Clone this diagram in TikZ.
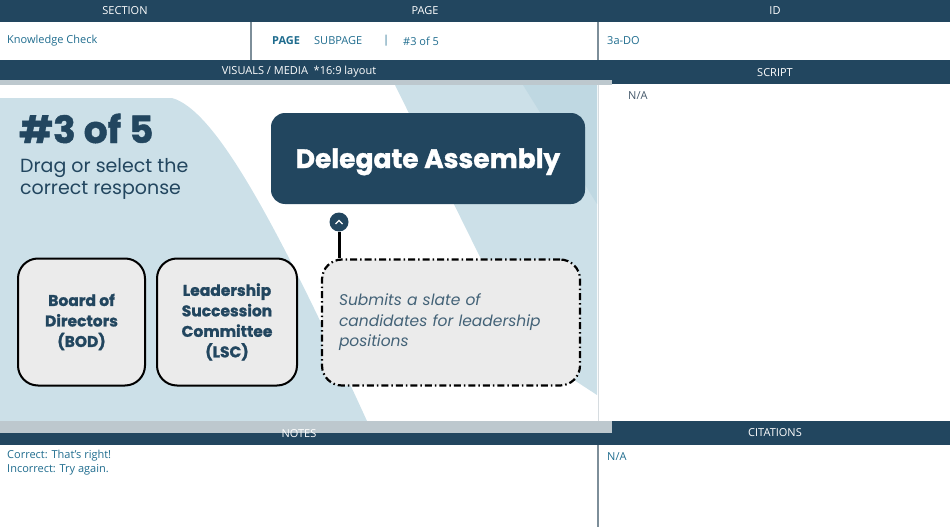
\documentclass[tikz,border=0pt]{standalone}
\usepackage{fontspec}
\setmainfont{Open Sans}
\newfontfamily\popfont{Poppins}
\newfontfamily\popheavy{Poppins}[BoldFeatures={FakeBold=1.2}]
\usepackage{tikz}
\usetikzlibrary{positioning}
\usetikzlibrary{calc}
\definecolor{navy}{HTML}{22465F}
\definecolor{paleblue}{HTML}{CCE0E8}
\definecolor{deepblue}{HTML}{BFD8E2}
\definecolor{stripgrey}{HTML}{BDC8CE}
\definecolor{cardgrey}{HTML}{EBEBEB}
\definecolor{celltext}{HTML}{1F6C8E}
\definecolor{rulegrey}{HTML}{7D8E99}
\definecolor{edgegrey}{HTML}{D6DCE0}
\definecolor{scripttext}{HTML}{44586A}
\tikzset{
    headlabel/.style={text=white, inner sep=0pt, font=\fontsize{11}{13}\selectfont},
    cell/.style={text=celltext, inner sep=0pt, anchor=west, font=\fontsize{11}{13}\selectfont},
    divider/.style={draw=rulegrey, line width=1.3pt},
    topic/.style={fill=navy, rounded corners=14pt, minimum width=314pt, minimum height=91pt,
        text height=19pt, text depth=0pt,
        text=white, font={\popheavy\bfseries\fontsize{26.5}{30}\selectfont}},
    toggle/.style={circle, fill=navy, minimum size=19pt, inner sep=0pt},
    card/.style={draw=black, line width=2pt, fill=cardgrey, rounded corners=20pt,
        minimum height=127pt, inner sep=0pt, align=center, text=navy,
        font={\popheavy\bfseries\fontsize{15.5}{20.5}\selectfont}},
    answer/.style={draw=black, line width=2.2pt, fill=cardgrey, rounded corners=20pt,
        dash pattern=on 7pt off 3pt on 1.5pt off 3pt,
        minimum height=126pt, text width=224pt, inner xsep=17pt, align=left, text=navy!85!white,
        font={\popfont\itshape\fontsize{15.5}{20.5}\selectfont}},
    stem/.style={draw=black, line width=3pt},
}
\begin{document}
\begin{tikzpicture}[x=1pt,y=-1pt]
\useasboundingbox (0,0) rectangle (950,527);
% slide backdrop
\fill[paleblue] (0,98) -- (172,98) .. controls (215,110) and (275,220) .. (367,421) -- (0,421) -- cycle;
\fill[paleblue] (395,85) -- (597,85) -- (597,395) -- (525,348) -- cycle;
\fill[deepblue] (523,85) -- (597,85) -- (597,204) -- cycle;
\draw[edgegrey, line width=1pt] (598,84) -- (598,421);
% bars
\fill[navy] (0,0) rectangle (950,22);
\fill[navy] (0,60) rectangle (950,84);
\fill[stripgrey] (0,80) rectangle (612,85);
\fill[navy] (0,421) rectangle (950,445);
\fill[stripgrey] (0,421) rectangle (612,433);
\node[headlabel] (secHead) at (125,11) {SECTION};
\node[headlabel] (pageHead) at (425,11) {PAGE};
\node[headlabel] (idHead) at (775,11) {ID};
\node[headlabel] (mediaHead) at (299,72) {VISUALS / MEDIA\ \ *16:9 layout};
\node[headlabel] (scriptHead) at (775,73) {SCRIPT};
\node[headlabel] (notesHead) at (299,434) {NOTES};
\node[headlabel] (citeHead) at (775,433) {CITATIONS};
\draw[divider] (251,22) -- (251,60);
\draw[divider] (598,22) -- (598,60);
\draw[divider] (598,445) -- (598,527);
% cells
\node[cell] (secCell) at (7,41) {Knowledge Check};
\node[cell, font=\fontsize{11}{13}\selectfont\bfseries] (pageCell) at (272,41) {PAGE};
\node[cell] (subCell) at (314,41) {SUBPAGE};
\node[cell] (barCell) at (383,41) {|};
\node[cell] (numCell) at (403,41) {\#3 of 5};
\node[cell] (idCell) at (607,41) {3a-DO};
\node[cell, text=scripttext] (scriptCell) at (628,96) {N/A};
\node[cell, anchor=north west, align=left, font=\fontsize{11}{14}\selectfont] (notesCell) at (7,450) {Correct: That’s right!\\Incorrect: Try again.};
\node[cell] (citeCell) at (607,457) {N/A};
% slide content
\node[anchor=base west, inner sep=0pt, text=navy, font={\popheavy\bfseries\fontsize{37.5}{40}\selectfont}] (qNum) at (19,143) {\#3 of 5};
\node[anchor=north west, inner sep=0pt, align=left, text=navy, font={\popfont\fontsize{19}{22}\selectfont}] (prompt) at (20,158) {Drag or select the\\correct response};
\node[topic] (assembly) at (428,158.5) {Delegate Assembly};
\node[toggle] (toggle) at (339,222) {};
\draw[white, line width=1.3pt] ($(toggle)+(-3.5,2)$) -- ($(toggle)+(0,-1.5)$) -- ($(toggle)+(3.5,2)$);
\node[card, minimum width=127pt] (bod) at (81.5,322) {Board of\\Directors\\(BOD)};
\node[card, minimum width=140pt, right=10pt of bod] (lsc) {Leadership\\Succession\\Committee\\(LSC)};
\node[answer] (slate) at (451,322.5) {Submits a slate of\\candidates for leadership\\positions};
\draw[stem] (toggle.south) -- (toggle.south |- slate.north);
\end{tikzpicture}
\end{document}
